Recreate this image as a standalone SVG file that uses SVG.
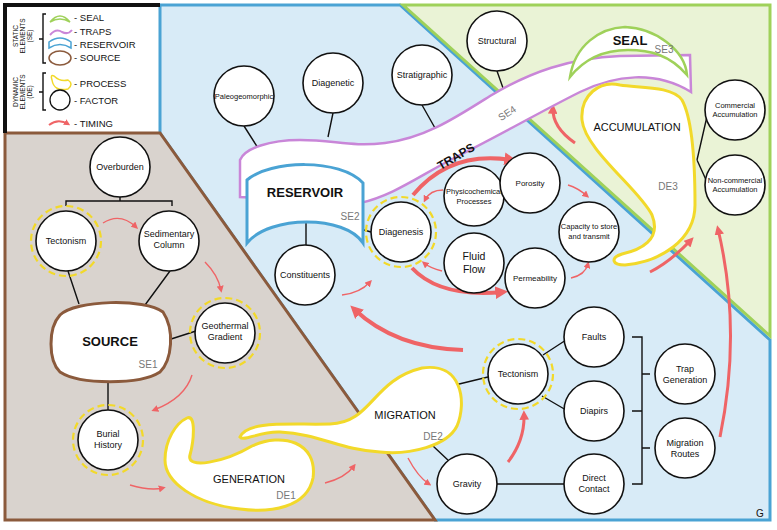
<svg xmlns="http://www.w3.org/2000/svg" width="777" height="530" viewBox="0 0 777 530">
<defs>
<marker id="ah" viewBox="0 0 10 10" refX="6" refY="5" markerWidth="3.2" markerHeight="3.2" orient="auto" markerUnits="strokeWidth"><path d="M0,0 L10,5 L0,10 Z" fill="#ef6466"/></marker>
<marker id="ahs" viewBox="0 0 10 10" refX="6" refY="5" markerWidth="5" markerHeight="5" orient="auto" markerUnits="strokeWidth"><path d="M0,0 L10,5 L0,10 Z" fill="#ef6466"/></marker>
<style>
text{font-family:"Liberation Sans",Arial,sans-serif;fill:#111;text-anchor:middle}
.c{fill:#fff;stroke:#111;stroke-width:1.6}
.r{fill:none;stroke:#f2d92a;stroke-width:2.2;stroke-dasharray:7 4}
.l{stroke:#111;stroke-width:1.4;fill:none}
.a{fill:none;stroke:#ef6466;stroke-width:3;marker-end:url(#ah)}
.at{fill:none;stroke:#ef6466;stroke-width:4;marker-end:url(#ah)}
.as{fill:none;stroke:#ef6466;stroke-width:1.4;marker-end:url(#ahs)}
.f9{font-size:9px}.f8{font-size:8px}.f7{font-size:7.5px}
.lab{font-size:9.5px;text-anchor:start}
.se{font-size:10px;fill:#777}
.proc{fill:#fff;stroke:#f2d92a;stroke-width:3}
</style>
</defs>
<rect width="777" height="530" fill="#fff"/>
<polygon points="160,5 400,5 770,340 770,520 435,520 160,133" fill="#d8ebf7" stroke="#4aa3d4" stroke-width="3"/>
<polygon points="403,5 770,5 770,336" fill="#eaf3d6" stroke="#9fd15a" stroke-width="3"/>
<polygon points="5,133 160,133 435,520 5,520" fill="#d9d3ce" stroke="#8b5a3c" stroke-width="3"/>
<g id="legend">
<path d="M5,133 V5 H160" fill="none" stroke="#111" stroke-width="4"/>
<text transform="translate(18,36) rotate(-90)" font-size="6.5" fill="#444">STATIC</text>
<text transform="translate(25,36) rotate(-90)" font-size="6.5" fill="#444">ELEMENTS</text>
<text transform="translate(32,36) rotate(-90)" font-size="6.5" fill="#444">(SE)</text>
<text transform="translate(18,92) rotate(-90)" font-size="6.5" fill="#444">DYNAMIC</text>
<text transform="translate(25,92) rotate(-90)" font-size="6.5" fill="#444">ELEMENTS</text>
<text transform="translate(32,92) rotate(-90)" font-size="6.5" fill="#444">(DE)</text>
<path d="M46,14 H43 V63 H46 M43,39 H39 M46,73 H43 V110 H46 M43,92 H39" class="l" stroke-width="1"/>
<path d="M50,22 Q60,10 70,22 Q60,16 50,22 Z" fill="none" stroke="#9fd15a" stroke-width="1.5"/>
<path d="M50,35 Q56,28 62,32 Q68,35 72,30" fill="none" stroke="#c986d8" stroke-width="2"/>
<path d="M49,48 V42 Q60,34 71,42 V48 Q60,41 49,48 Z" fill="none" stroke="#4aa3d4" stroke-width="1.5"/>
<ellipse cx="60" cy="58" rx="11" ry="7" fill="none" stroke="#8b5a3c" stroke-width="1.5"/>
<path d="M52,80 Q50,74 54,76 Q60,82 68,80 Q74,84 68,89 Q54,92 52,80 Z" fill="none" stroke="#f2d92a" stroke-width="1.5"/>
<circle cx="60" cy="100" r="10" fill="none" stroke="#111" stroke-width="1.3"/>
<path d="M49,125 Q58,118 68,124" fill="none" stroke="#ef6466" stroke-width="2" marker-end="url(#ah)"/>
<text class="lab" x="74" y="21">- SEAL</text>
<text class="lab" x="74" y="35">- TRAPS</text>
<text class="lab" x="74" y="48">- RESERVOIR</text>
<text class="lab" x="74" y="61">- SOURCE</text>
<text class="lab" x="74" y="87">- PROCESS</text>
<text class="lab" x="74" y="104">- FACTOR</text>
<text class="lab" x="74" y="127">- TIMING</text>
</g>
<g id="connectors">
<path class="l" d="M120,197 V201 M66,206 V201 H172 V206"/>
<path class="l" d="M68,271 L79,304 M170,271 L145,305 M168,340 L196,331 M108,379 V410"/>
<path class="l" d="M244,126 L258,148 M333,113 L328,137 M422,105 L435,128 M497,71 L503,88"/>
<path class="l" d="M306,212 V245 M364,230 L371,232 M455,385 L488,377 M543,355 L566,340 M542,396 L566,410 M497,484 H564 M433,446 L450,462"/>
<path class="l" d="M697,160 L708,112 M697,160 L707,182"/>
<path class="l" d="M632,337 H642 V484 H632 M632,411 H642 M642,374 H650 M642,448 H650"/>
<path class="as" d="M103,223 Q120,212 136,227" stroke-width="2.2"/>
<path class="as" d="M205,262 Q218,275 221,290" stroke-width="2.2"/>
<path class="as" d="M192,375 Q185,398 154,410" stroke-width="2.2"/>
<path class="as" d="M130,485 Q150,491 163,488" stroke-width="2.2"/>
<path class="as" d="M325,483 Q345,478 354,466" stroke-width="2.2"/>
<path class="as" d="M408,458 Q418,477 429,484" stroke-width="2.2"/>
<path class="a" d="M508,462 Q525,440 524,414"/>
<path class="as" d="M342,295 Q360,293 370,282" stroke-width="2"/>
<path class="as" d="M443,190 Q430,190 425,200"/>
<path class="as" d="M442,271 Q430,268 424,263"/>
<path class="at" d="M413,195 Q450,150 512,160"/>
<path class="at" d="M412,268 Q440,298 503,292"/>
<path class="as" d="M568,185 Q578,188 587,196"/>
<path class="as" d="M571,278 Q585,275 588,264"/>
<path class="a" d="M650,272 Q670,262 691,240"/>
<path class="a" d="M575,143 Q552,127 553,108"/>
<path class="a" d="M720,437 Q742,330 718,229"/>
<path class="at" d="M463,350 Q395,348 354,309"/>
</g>
<g id="traps">
<path d="M240,197 V160 C245,148 270,140 300,140 C335,140 350,147 385,143 C425,138 455,118 490,96 C530,72 570,58 620,56 L690,55 L691,92 C655,70 615,75 580,92 C540,112 500,135 460,155 C420,175 395,195 360,203 L240,197 Z" fill="#fff" stroke="#c986d8" stroke-width="2.5"/>
<text x="458" y="160" font-size="12" font-weight="bold" transform="rotate(-30 458 160)">TRAPS</text>
<text x="509" y="116" class="se" transform="rotate(-33 509 116)">SE4</text>
</g>
<g id="seal">
<path d="M570,77 C575,45 600,28 625,27 C655,28 685,50 687,75 C670,55 650,50 628,50 C605,50 585,58 570,77 Z" fill="#fff" stroke="#9fd15a" stroke-width="2.5"/>
<text x="630" y="45" font-size="13" font-weight="bold">SEAL</text>
<text x="664" y="53" class="se">SE3</text>
</g>
<g id="reservoir">
<path d="M247,243 V180 C270,160 340,158 363,183 V243 C345,215 270,215 247,243 Z" fill="#fff" stroke="#4aa3d4" stroke-width="3"/>
<text x="305" y="197" font-size="13" font-weight="bold">RESERVOIR</text>
<text x="350" y="220" class="se">SE2</text>
</g>
<g id="source">
<path d="M60,315 C75,300 145,298 163,312 C175,330 172,360 160,372 C140,385 80,385 60,372 C48,360 48,328 60,315 Z" fill="#fff" stroke="#8b5a3c" stroke-width="3"/>
<text x="110" y="346" font-size="13" font-weight="bold">SOURCE</text>
<text x="148" y="368" class="se">SE1</text>
</g>
<g id="accumulation">
<path d="M620,85 C600,80 580,95 582,120 C585,150 640,190 652,215 C662,240 640,250 622,254 C610,258 612,265 625,265 C660,262 695,240 695,205 C695,170 693,120 682,100 C672,86 640,88 620,85 Z" class="proc"/>
<text x="637" y="131" font-size="11">ACCUMULATION</text>
<text x="668" y="190" class="se" fill="#444">DE3</text>
</g>
<g id="generation">
<path d="M187,418 C196,414 194,440 190,455 C186,470 225,462 252,446 C282,432 318,442 313,478 C307,508 270,513 240,509 C195,504 165,482 165,460 C165,440 176,423 187,418 Z" class="proc"/>
<text x="249" y="483" font-size="11">GENERATION</text>
<text x="286" y="499" class="se">DE1</text>
</g>
<g id="migration">
<path d="M240,437 C248,420 290,425 330,424 C372,423 372,380 422,368 C462,362 467,402 457,426 C447,446 410,455 380,452 C340,450 320,434 280,432 C260,431 244,442 240,437 Z" class="proc"/>
<text x="405" y="419" font-size="11">MIGRATION</text>
<text x="433" y="440" class="se">DE2</text>
</g>
<g id="overburden"><circle class="c" cx="120" cy="167" r="30"/><text class="f9" x="120" y="170">Overburden</text></g>
<g id="tectonism1"><circle class="r" cx="66" cy="241" r="35"/><circle class="c" cx="66" cy="241" r="30"/><text class="f9" x="66" y="244">Tectonism</text></g>
<g id="sedimentary"><circle class="c" cx="169" cy="241" r="30"/><text class="f9" x="169" y="237">Sedimentary</text><text class="f9" x="169" y="248">Column</text></g>
<g id="geothermal"><circle class="r" cx="225" cy="333" r="35"/><circle class="c" cx="225" cy="333" r="30"/><text class="f9" x="225" y="329">Geothermal</text><text class="f9" x="225" y="340">Gradient</text></g>
<g id="burial"><circle class="r" cx="108" cy="440" r="35"/><circle class="c" cx="108" cy="440" r="30"/><text class="f9" x="108" y="437">Burial</text><text class="f9" x="108" y="448">History</text></g>
<g id="paleo"><circle class="c" cx="244" cy="96" r="30"/><text class="f7" x="244" y="99">Paleogeomorphic</text></g>
<g id="diagenetic"><circle class="c" cx="333" cy="83" r="30"/><text class="f9" x="333" y="86">Diagenetic</text></g>
<g id="stratigraphic"><circle class="c" cx="422" cy="75" r="30"/><text class="f9" x="422" y="78">Stratigraphic</text></g>
<g id="structural"><circle class="c" cx="497" cy="41" r="30"/><text class="f9" x="497" y="44">Structural</text></g>
<g id="constituents"><circle class="c" cx="305" cy="275" r="30"/><text class="f9" x="305" y="278">Constituents</text></g>
<g id="diagenesis"><circle class="r" cx="401" cy="232" r="35"/><circle class="c" cx="401" cy="232" r="30"/><text class="f9" x="401" y="235">Diagenesis</text></g>
<g id="physico"><circle class="c" cx="474" cy="196" r="30"/><text class="f7" x="474" y="194">Physicochemical</text><text class="f7" x="474" y="204">Processes</text></g>
<g id="porosity"><circle class="c" cx="530" cy="183" r="30"/><text class="f8" x="530" y="186">Porosity</text></g>
<g id="fluidflow"><circle class="c" cx="474" cy="263" r="30"/><text x="474" y="260" font-size="10.5">Fluid</text><text x="474" y="273" font-size="10.5">Flow</text></g>
<g id="permeability"><circle class="c" cx="535" cy="278" r="30"/><text class="f8" x="535" y="281">Permeability</text></g>
<g id="capacity"><circle class="c" cx="589" cy="232" r="30"/><text class="f7" x="589" y="229">Capacity to store</text><text class="f7" x="589" y="239">and transmit</text></g>
<g id="commercial"><circle class="c" cx="735" cy="110" r="30"/><text class="f7" x="735" y="108">Commercial</text><text class="f7" x="735" y="117">Accumulation</text></g>
<g id="noncommercial"><circle class="c" cx="735" cy="185" r="30"/><text class="f7" x="735" y="183">Non-commercial</text><text class="f7" x="735" y="192">Accumulation</text></g>
<g id="tectonism2"><circle class="r" cx="518" cy="374" r="35"/><circle class="c" cx="518" cy="374" r="30"/><text class="f9" x="518" y="377">Tectonism</text></g>
<g id="faults"><circle class="c" cx="594" cy="337" r="30"/><text class="f9" x="594" y="340">Faults</text></g>
<g id="diapirs"><circle class="c" cx="594" cy="411" r="30"/><text class="f9" x="594" y="414">Diapirs</text></g>
<g id="direct"><circle class="c" cx="594" cy="484" r="30"/><text class="f9" x="594" y="481">Direct</text><text class="f9" x="594" y="492">Contact</text></g>
<g id="trapgen"><circle class="c" cx="685" cy="374" r="30"/><text class="f9" x="685" y="372">Trap</text><text class="f9" x="685" y="383">Generation</text></g>
<g id="migroutes"><circle class="c" cx="685" cy="448" r="30"/><text class="f9" x="685" y="446">Migration</text><text class="f9" x="685" y="457">Routes</text></g>
<g id="gravity"><circle class="c" cx="467" cy="484" r="30"/><text class="f9" x="467" y="487">Gravity</text></g>
<text x="760" y="517" font-size="10">G</text>
</svg>
